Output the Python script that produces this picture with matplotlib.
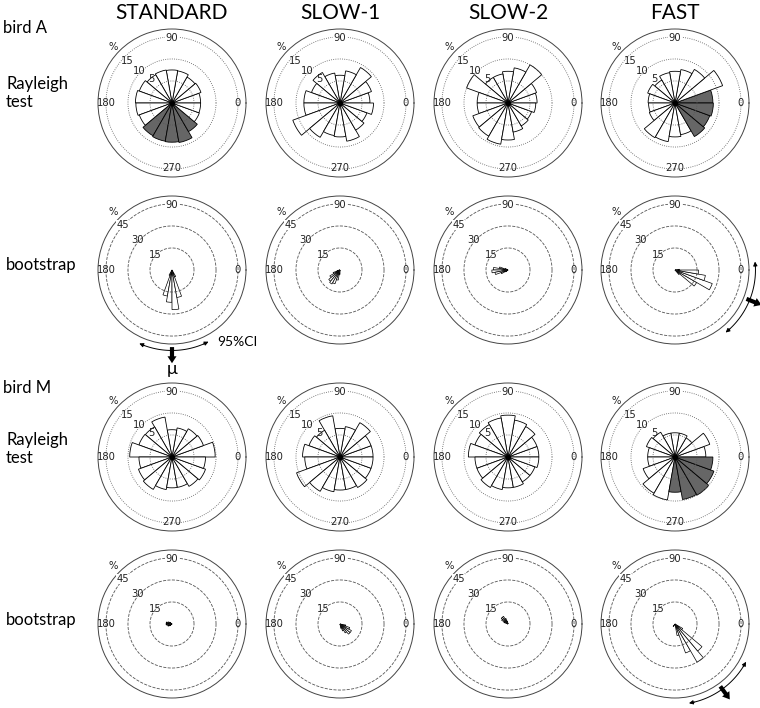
import numpy as np
import matplotlib.pyplot as plt

plt.rcParams['font.family'] = ['Lato', 'DejaVu Sans']

# column / row headers
conditions = ['STANDARD', 'SLOW-1', 'SLOW-2', 'FAST']
birds = ['bird A', 'bird M']

# Rayleigh histograms: % of headings in 18 bins of 20 deg (0-20, 20-40, ... 340-360)
ray_A = [
    [6.5, 7.0, 6.8, 7.4, 7.5, 7.6, 7.4, 7.9, 8.3, 8.2, 7.9, 8.6, 8.8, 8.9, 9.1, 7.5, 6.6, 6.5],
    [6.8, 7.6, 9.3, 7.4, 6.3, 6.9, 8.0, 6.9, 8.2, 8.2, 11.4, 9.0, 7.5, 7.7, 8.8, 7.1, 6.5, 7.6],
    [6.6, 6.9, 10.0, 8.1, 7.2, 6.7, 6.7, 10.0, 7.0, 7.0, 8.5, 8.7, 9.5, 8.4, 6.7, 6.0, 5.7, 6.3],
    [8.6, 11.5, 8.8, 7.7, 7.2, 7.0, 6.0, 6.6, 6.1, 6.0, 6.2, 9.1, 8.9, 7.7, 7.3, 8.8, 8.4, 8.7],
]
ray_M = [
    [9.8, 7.6, 7.4, 6.7, 6.2, 9.2, 7.9, 8.0, 9.6, 7.5, 8.1, 8.5, 7.5, 7.0, 7.0, 7.7, 8.1, 7.6],
    [7.5, 7.5, 9.0, 7.0, 6.5, 9.5, 7.0, 7.5, 8.5, 8.0, 10.5, 9.0, 8.0, 7.5, 7.5, 8.0, 7.5, 7.5],
    [7.0, 7.0, 8.0, 8.5, 9.5, 9.0, 8.5, 8.0, 9.0, 7.5, 7.5, 8.0, 7.5, 7.0, 7.0, 6.5, 6.5, 7.0],
    [7.0, 8.4, 5.0, 5.5, 5.5, 5.5, 6.5, 6.9, 6.2, 6.2, 7.7, 9.5, 9.9, 8.0, 9.8, 10.0, 9.4, 8.6],
]
# bins shaded grey (significant direction)
shade_A = [[11, 12, 13, 14, 15], [], [], [15, 16, 17, 0]]
shade_M = [[], [], [], [13, 14, 15, 16, 17]]

# bootstrap histograms: % of resampled means in 36 bins of 10 deg
boot_A = [
    [0, 0, 0, 0, 0, 0, 0, 0, 0, 0, 0, 0,
     0, 0, 0, 0, 0, 0, 0, 0, 0, 0, 0, 0,
     4, 18, 22, 27, 19, 5, 0, 0, 0, 0, 0, 0],
    [0, 0, 0, 0, 0, 0, 0, 0, 0, 0, 0, 0,
     0, 0, 0, 0, 0, 0, 0, 2, 5, 8, 10, 11,
     10, 7, 3, 0, 0, 0, 0, 0, 0, 0, 0, 0],
    [0, 0, 0, 0, 0, 0, 0, 0, 0, 0, 0, 0,
     0, 0, 0, 2, 6, 10, 11, 9, 5, 2, 0, 0,
     0, 0, 0, 0, 0, 0, 0, 0, 0, 0, 0, 0],
    [3, 0, 0, 0, 0, 0, 0, 0, 0, 0, 0, 0,
     0, 0, 0, 0, 0, 0, 0, 0, 0, 0, 0, 0,
     0, 0, 0, 0, 0, 0, 0, 4, 17, 27, 21, 16],
]
boot_M = [
    [0, 0, 0, 0, 0, 0, 0, 0, 0, 0, 0, 0,
     0, 0, 2, 3, 4, 4, 4, 3, 3, 2, 0, 0,
     0, 0, 0, 0, 0, 0, 0, 0, 0, 0, 0, 0],
    [0, 0, 0, 0, 0, 0, 0, 0, 0, 0, 0, 0,
     0, 0, 0, 0, 0, 0, 0, 0, 0, 0, 0, 0,
     0, 0, 0, 0, 3, 5, 7, 9, 9, 7, 4, 0],
    [0, 0, 0, 0, 0, 0, 0, 0, 0, 0, 2, 4,
     6, 6, 5, 3, 0, 0, 0, 0, 0, 0, 0, 0,
     0, 0, 0, 0, 0, 0, 0, 0, 0, 0, 0, 0],
    [0, 0, 0, 0, 0, 0, 0, 0, 0, 0, 0, 0,
     0, 0, 0, 0, 0, 0, 0, 0, 0, 0, 0, 2,
     0, 0, 0, 0, 8, 21, 30, 24, 6, 0, 0, 0],
]
# mean direction and 95% CI (deg) where significant: (bird, condition) -> (mean, lo, hi)
boot_mean = {('A', 0): (270, 246, 297), ('A', 3): (338, 309, 366), ('M', 3): (306, 280, 332)}

W, H = 760, 708
R_PX = 74
col_x = [172, 340, 508, 675]
row_y = [103, 270, 457, 624]

fig = plt.figure(figsize=(W / 100, H / 100), dpi=100)

NUM = dict(family='DejaVu Sans', fontsize=7.2, color='#222')


def polar_ax(cx, cy):
    ax = fig.add_axes([(cx - R_PX) / W, 1 - (cy + R_PX) / H, 2 * R_PX / W, 2 * R_PX / H],
                      projection='polar')
    ax.grid(False)
    ax.set_yticks([])
    ax.set_xticks(np.radians(np.arange(0, 360, 30)))
    ax.set_xticklabels([])
    ax.tick_params(axis='x', direction='inout', length=4, width=0.5, color='#444')
    ax.spines['polar'].set_linewidth(0.7)
    ax.spines['polar'].set_color('#444')
    return ax


def rings(ax, radii, ls):
    th = np.linspace(0, 2 * np.pi, 400)
    for r in radii:
        ax.plot(th, np.full_like(th, r), ls=ls, color='#555', lw=0.6, zorder=3)


def dir_labels(ax, r, with270):
    ax.text(0, r, '0', ha='center', va='center', **NUM)
    ax.text(np.pi / 2, r, '90', ha='center', va='center', zorder=5,
            bbox=dict(fc='white', ec='none', pad=0.3), **NUM)
    ax.text(np.pi, r, '180', ha='center', va='center', **NUM)
    if with270:
        ax.text(3 * np.pi / 2, r, '270', ha='center', va='center', **NUM)


def rayleigh(ax, vals, shaded):
    rmax = 16.8
    ax.set_ylim(0, rmax)
    theta = np.radians(np.arange(10, 360, 20))
    colors = ['#666666' if i in shaded else 'white' for i in range(18)]
    ax.bar(theta, vals, width=np.radians(20), bottom=0, color=colors,
           edgecolor='black', lw=0.6, zorder=2)
    rings(ax, [5, 10, 15], ':')
    ax.plot([0], [0], 'o', color='black', ms=2.5, zorder=4)
    dir_labels(ax, 14.8, True)
    for lab, a, r in [('5', 131, 7.1), ('10', 135, 10.4), ('15', 136.5, 13.9), ('%', 136.5, 18.5)]:
        ax.text(np.radians(a), r, lab, ha='center', va='center', **NUM)


def bootstrap(ax, vals, mean=None):
    rmax = 50.4
    ax.set_ylim(0, rmax)
    theta = np.radians(np.arange(5, 360, 10))
    ax.bar(theta, vals, width=np.radians(10), bottom=0, color='white',
           edgecolor='black', lw=0.5, zorder=2)
    rings(ax, [15, 30, 45], '--')
    dir_labels(ax, 44.6, False)
    for lab, a, r in [('15', 138, 15.3), ('30', 139, 31.4), ('45', 137.5, 45.5), ('%', 135.5, 56.2)]:
        ax.text(np.radians(a), r, lab, ha='center', va='center', zorder=5,
                bbox=dict(fc='white', ec='none', pad=0.2) if lab == '45' else None, **NUM)
    if mean is not None:
        mu, lo, hi = mean
        rc = 54.8
        th = np.radians(np.linspace(lo + 3, hi - 3, 100))
        ax.plot(th, np.full_like(th, rc), color='black', lw=0.7, clip_on=False)
        for a0, a1 in [(lo + 4, lo), (hi - 4, hi)]:
            ax.annotate('', xy=(np.radians(a1), rc), xytext=(np.radians(a0), rc),
                        arrowprops=dict(arrowstyle='-|>', color='black', lw=0.7,
                                        mutation_scale=6, shrinkA=0, shrinkB=0),
                        annotation_clip=False)
        ax.annotate('', xy=(np.radians(mu), 63.5), xytext=(np.radians(mu), 52.5),
                    arrowprops=dict(arrowstyle='simple,head_length=0.5,head_width=0.65,tail_width=0.3',
                                    fc='black', ec='none', lw=0,
                                    mutation_scale=10, shrinkA=0, shrinkB=0),
                    annotation_clip=False)


for j, name in enumerate(conditions):
    fig.text(col_x[j] / W, 1 - 13 / H, name, ha='center', va='center', fontsize=15)
    rayleigh(polar_ax(col_x[j], row_y[0]), ray_A[j], shade_A[j])
    bootstrap(polar_ax(col_x[j], row_y[1]), boot_A[j], boot_mean.get(('A', j)))
    rayleigh(polar_ax(col_x[j], row_y[2]), ray_M[j], shade_M[j])
    bootstrap(polar_ax(col_x[j], row_y[3]), boot_M[j], boot_mean.get(('M', j)))

# row labels
LBL = dict(fontsize=12, ha='left', va='center')
fig.text(3 / W, 1 - 28 / H, birds[0], **LBL)
fig.text(6 / W, 1 - 84 / H, 'Rayleigh', **LBL)
fig.text(6 / W, 1 - 102 / H, 'test', **LBL)
fig.text(6 / W, 1 - 265 / H, 'bootstrap', **LBL)
fig.text(3 / W, 1 - 388 / H, birds[1], **LBL)
fig.text(6 / W, 1 - 440 / H, 'Rayleigh', **LBL)
fig.text(6 / W, 1 - 458 / H, 'test', **LBL)
fig.text(6 / W, 1 - 620 / H, 'bootstrap', **LBL)

# CI / mean annotation on the first bootstrap panel
fig.text(217 / W, 1 - 342 / H, '95%CI', fontsize=10, ha='left', va='center')
fig.text(172 / W, 1 - 369 / H, 'μ', fontsize=13, ha='center', va='center')

fig.savefig('out.png', dpi=100)
